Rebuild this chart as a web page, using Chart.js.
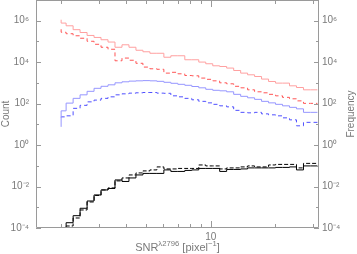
<!DOCTYPE html>
<html>
<head>
<meta charset="utf-8">
<script src="https://cdn.jsdelivr.net/npm/chart.js@4/dist/chart.umd.min.js"></script>
<style>
  html, body { margin: 0; padding: 0; background: #fff; }
  canvas { display: block; }
</style>
</head>
<body>
<canvas id="chart" width="357" height="254"></canvas>
<script>
// bin edges, SNR [pixel^-1]
const snrEdges = [2.00, 2.11, 2.275, 2.452, 2.644, 2.850, 3.072, 3.312, 3.570, 3.849,
    4.149, 4.473, 4.822, 5.198, 5.603, 6.040, 6.511, 7.019, 7.567, 8.157,
    8.793, 9.479, 10.22, 11.01, 11.87, 12.80, 13.80, 14.87, 16.03, 17.28,
    18.63, 20.09, 21.65, 23.34, 25.16, 27.13, 29.24, 31.52];

// one value per bin
const countRed = [1.12e6, 7.7e5, 5.7e5, 3.7e5, 2.7e5, 1.95e5, 1.56e5, 1.21e5, 9.35e4, 5.25e4,
    6.9e4, 5.25e4, 3.76e4, 3.18e4, 2.69e4, 2.69e4, 1.73e4, 2.04e4, 2.04e4, 1.31e4,
    1.31e4, 1.01e4, 8.4e3, 6.7e3, 6.2e3, 5.2e3, 3.97e3, 2.97e3, 2.46e3, 2.04e3,
    1.53e3, 1.17e3, 977, 977, 724, 600, 464];
const countRedDash = [3.88e5, 2.78e5, 2.36e5, 1.88e5, 1.43e5, 1.02e5, 7.3e4, 5.25e4, 4.2e4, 1.17e4,
    1.58e4, 1.24e4, 8.85e3, 5.8e3, 4.8e3, 4.54e3, 2.97e3, 3.25e3, 2.75e3, 2.28e3,
    2.2e3, 1.71e3, 1.49e3, 1.26e3, 1.01e3, 906, 686, 580, 464, 372,
    333, 281, 238, 201, 171, 136, 103];
const countBlue = [7.6, 44.9, 106, 180, 266, 393, 548, 686, 809, 1010,
    1130, 1220, 1260, 1290, 1260, 1190, 1070, 957, 855, 766,
    670, 580, 491, 440, 415, 372, 281, 225, 191, 161,
    129, 109, 92.5, 78.3, 66.2, 56.1, 38];
const countBlueDash = [21.8, 23, 25.8, 59.3, 82.8, 122, 148, 180, 213, 266,
    297, 321, 333, 344, 344, 321, 315, 238, 213, 180,
    153, 129, 109, 92.5, 78.3, 70, 47.4, 38, 36, 38,
    32.1, 28.8, 25.8, 20.6, 16.5, 8.5, 12.5];
const freqBlack = [1e-6, 1e-6, 1.8e-4, 3.93e-4, 8.95e-4, 2.01e-3, 3.93e-3, 6.86e-3, 8.09e-3, 0.0208,
    0.0176, 0.026, 0.0363, 0.043, 0.043, 0.043, 0.0634, 0.0536, 0.0536, 0.06,
    0.0634, 0.0748, 0.0748, 0.0748, 0.0536, 0.067, 0.067, 0.0708, 0.0793, 0.0793,
    0.0793, 0.0793, 0.0838, 0.0838, 0.0885, 0.0634, 0.0989];
const freqBlackDash = [1e-6, 1e-6, 1.25e-4, 3.04e-4, 7.4e-4, 1.8e-3, 3.72e-3, 6.86e-3, 8.55e-3, 0.0187,
    0.026, 0.0363, 0.0454, 0.0568, 0.0634, 0.0885, 0.0708, 0.0708, 0.0748, 0.0748,
    0.0748, 0.110, 0.0989, 0.0989, 0.0708, 0.0793, 0.0793, 0.0885, 0.0989, 0.0885,
    0.0885, 0.110, 0.117, 0.117, 0.117, 0.0793, 0.131];

const xTicks = [2, 3, 4, 5, 6, 7, 8, 9, 10, 20, 30];
const xLabels = { 10: "10" };
const yTicks = [1e-4, 1e-3, 1e-2, 1e-1, 1, 10, 100, 1e3, 1e4, 1e5, 1e6, 1e7];

const axisGrey = "#9a9a9a";
const textGrey = "#7a7a7a";
const font = "Liberation Sans";

const supChars = { "0": "\u2070", "1": "\u00b9", "2": "\u00b2", "3": "\u00b3", "4": "\u2074",
    "5": "\u2075", "6": "\u2076", "7": "\u2077", "8": "\u2078", "9": "\u2079", "-": "\u207b" };

function powLabel(v) {
    const p = Math.round(Math.log10(v));
    if (p % 2 !== 0 || p > 6) return "";
    return "10" + String(p).split("").map(c => supChars[c]).join("");
}

function steps(values) {
    // histogram: one point per edge, last bin repeated at the closing edge
    return snrEdges.map((e, i) => ({ x: e, y: values[Math.min(i, values.length - 1)] }));
}

function series(values, color, dash, axis) {
    return {
        data: steps(values),
        borderColor: color,
        borderWidth: 1,
        borderDash: dash,
        stepped: "after",
        pointRadius: 0,
        yAxisID: axis
    };
}

function drawRich(ctx, parts, cx, cy, size) {
    let w = 0;
    parts.forEach(p => {
        ctx.font = (p.sup ? size * 0.7 : size) + "px '" + font + "'";
        p.w = ctx.measureText(p.t).width;
        w += p.w;
    });
    let x = cx - w / 2;
    parts.forEach(p => {
        ctx.font = (p.sup ? size * 0.7 : size) + "px '" + font + "'";
        ctx.fillText(p.t, x, p.sup ? cy - size * 0.4 : cy);
        x += p.w;
    });
}

// frame, inward ticks, axis titles
const framePlugin = {
    id: "frame",
    afterDraw(chart) {
        const { ctx, chartArea: a, scales } = chart;
        const x = scales.x, y = scales.y;
        ctx.save();
        ctx.strokeStyle = axisGrey;
        ctx.lineWidth = 1;
        ctx.beginPath();
        ctx.rect(a.left + 0.5, a.top + 0.5, a.right - a.left - 1, a.bottom - a.top - 1);
        xTicks.forEach(v => {
            const px = Math.round(x.getPixelForValue(v)) + 0.5;
            const len = v === 10 ? 7 : 4;
            ctx.moveTo(px, a.bottom);
            ctx.lineTo(px, a.bottom - len);
            ctx.moveTo(px, a.top);
            ctx.lineTo(px, a.top + len);
        });
        yTicks.forEach(v => {
            const py = Math.round(y.getPixelForValue(v)) + 0.5;
            const len = powLabel(v) ? 5 : 3;
            ctx.moveTo(a.left, py);
            ctx.lineTo(a.left + len, py);
            ctx.moveTo(a.right, py);
            ctx.lineTo(a.right - len, py);
        });
        ctx.stroke();

        ctx.fillStyle = textGrey;
        ctx.textBaseline = "middle";
        ctx.textAlign = "left";
        drawRich(ctx, [
            { t: "SNR" }, { t: "\u03bb2796", sup: true },
            { t: " [pixel" }, { t: "\u22121", sup: true }, { t: "]" }
        ], (a.left + a.right) / 2, 248, 11);

        ctx.font = "10px '" + font + "'";
        ctx.textAlign = "center";
        ctx.translate(6, (a.top + a.bottom) / 2);
        ctx.rotate(-Math.PI / 2);
        ctx.fillText("Count", 0, 0);
        ctx.restore();

        ctx.save();
        ctx.fillStyle = textGrey;
        ctx.font = "10px '" + font + "'";
        ctx.textAlign = "center";
        ctx.textBaseline = "middle";
        ctx.translate(351, (a.top + a.bottom) / 2);
        ctx.rotate(-Math.PI / 2);
        ctx.fillText("Frequency", 0, 0);
        ctx.restore();
    }
};

function logY(position, width, pad) {
    return {
        type: "logarithmic",
        position: position,
        min: 1e-4,
        max: 1e7,
        grid: { display: false, drawTicks: false },
        border: { display: false },
        afterBuildTicks: s => { s.ticks = yTicks.map(v => ({ value: v })); },
        afterFit: s => { s.width = width; s.paddingTop = 0; s.paddingBottom = 0; },
        ticks: {
            autoSkip: false,
            padding: pad,
            color: textGrey,
            font: { family: font, size: 10 },
            callback: v => powLabel(v)
        }
    };
}

const ctx = document.getElementById("chart").getContext("2d");
new Chart(ctx, {
    type: "line",
    data: {
        datasets: [
            series(countRed, "rgb(255,160,160)", [], "y"),
            series(countRedDash, "rgb(255,85,85)", [4, 3], "y"),
            series(countBlue, "rgb(150,150,255)", [], "y"),
            series(countBlueDash, "rgb(80,80,255)", [4, 3], "y"),
            series(freqBlack, "#000", [], "y2"),
            series(freqBlackDash, "#000", [4, 2], "y2")
        ]
    },
    options: {
        responsive: false,
        animation: false,
        devicePixelRatio: 1,
        layout: { padding: 0 },
        plugins: { legend: { display: false }, tooltip: { enabled: false } },
        scales: {
            x: {
                type: "logarithmic",
                min: 1.526,
                max: 32.06,
                grid: { display: false, drawTicks: false },
                border: { display: false },
                afterBuildTicks: s => { s.ticks = xTicks.map(v => ({ value: v })); },
                afterFit: s => { s.height = 26; s.paddingLeft = 0; s.paddingRight = 0; },
                ticks: {
                    autoSkip: false,
                    maxRotation: 0,
                    padding: 3,
                    color: textGrey,
                    font: { family: font, size: 10 },
                    callback: v => xLabels[v] || ""
                }
            },
            y: logY("left", 36, 7),
            y2: logY("right", 38, 3)
        }
    },
    plugins: [framePlugin]
});
</script>
</body>
</html>
